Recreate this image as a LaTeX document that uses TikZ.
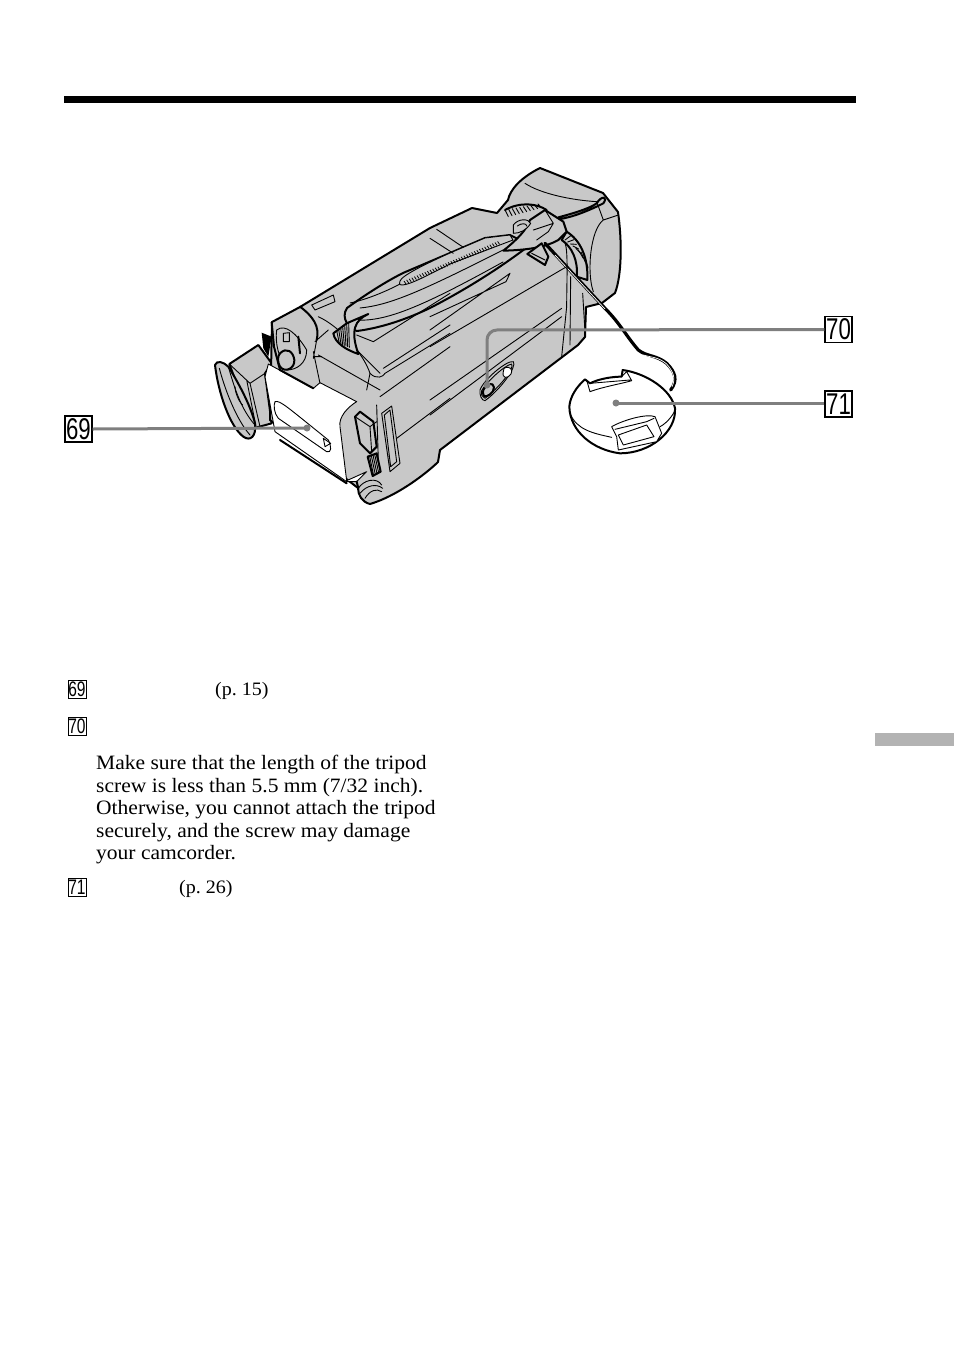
\documentclass[tikz,border=0pt]{standalone}
\usepackage{fontspec}
\setmainfont[FakeStretch=1.055]{Liberation Serif}
\newfontfamily\numfont{Liberation Sans}
\definecolor{shellgrey}{HTML}{C8C8C8}
\definecolor{leadgrey}{HTML}{7F7F7F}
\definecolor{tabgrey}{HTML}{B3B3B3}
\newcommand{\numtext}[2]{\scalebox{.74}[1]{\fontsize{#1}{#1}\numfont #2}}
\tikzset{
	heavy/.style={line width=2pt,line join=round,line cap=round},
	thin line/.style={line width=.9pt,line join=round,line cap=round},
	shell/.style={preaction={fill=shellgrey},draw=black,heavy},
	shell thin/.style={preaction={fill=shellgrey},draw=black,thin line},
	blank/.style={preaction={fill=white},draw=black,thin line},
	bigbox/.style={draw,line width=1.2pt,inner sep=0pt,minimum width=27pt,minimum height=26pt},
	smallbox/.style={draw,line width=.9pt,inner sep=0pt,minimum width=18pt,minimum height=18pt},
	leader/.style={draw=leadgrey,line width=3pt},
	tip/.style={circle,fill=leadgrey,inner sep=0pt,minimum size=7pt},
	bodytext/.style={font=\fontsize{20.4}{22.6}\selectfont,inner sep=0pt,align=left},
	pagetext/.style={font=\fontsize{19}{22}\selectfont,inner sep=0pt}
}
\begin{document}
\frenchspacing
\begin{tikzpicture}[x=1pt,y=-1pt]
	\useasboundingbox (0,0) rectangle (954,1352);
	\fill (64,96) rectangle (856,103);
	\fill[tabgrey] (875,733) rectangle (954,746);
	% camcorder, left half read in 3x coordinates
	\begin{scope}[shift={(200,160)},scale=1/3]
		% eyecup
		\path[shell] (88,612) -- (175,555) -- (215,610) -- (195,640) -- (215,790) -- (160,805) -- cycle;
		\fill (185,518) -- (215,530) -- (205,590) -- (190,565) -- cycle;
		\path[shell] (45,615) .. controls (50,600) and (70,605) .. (85,620) .. controls (110,660) and (150,730) .. (165,790) .. controls (170,830) and (150,845) .. (130,830) .. controls (90,800) and (55,700) .. (45,615) -- cycle;
		\draw[thin line] (58,625) .. controls (75,690) and (110,780) .. (150,825);
		\draw[thin line] (85,620) .. controls (105,690) and (125,750) .. (165,795);
		\draw[thin line] (150,670) -- (180,800) (140,660) -- (168,800) (88,612) -- (150,670) -- (195,640);
		\draw[thin line] (105,680) .. controls (105,700) and (120,730) .. (128,735);
	\end{scope}
	% main body and lens hood
	\path[shell] (272,322) -- (300,307) -- (430,228) -- (472,208) -- (497,213) -- (508,200) .. controls (510,190) and (520,178) .. (540,168) -- (603,193) -- (618,212) .. controls (622,240) and (622,275) .. (615,293) -- (602,303) -- (586,307) -- (585,337) -- (578,345) -- (440,450) -- (438,462) .. controls (430,470) and (400,495) .. (370,504) .. controls (362,502) and (358,495) .. (358,488) -- (270,420) -- cycle;
	% strap
	\path[shell] (347,308) .. controls (365,295) and (385,282) .. (403,273) -- (450,253) -- (485,238) -- (510,235) -- (530,245) .. controls (500,268) and (465,290) .. (430,308) .. controls (405,320) and (380,328) .. (357,331) .. controls (350,330) and (340,318) .. (347,308) -- cycle;
	\draw[thin line] (350,303) .. controls (365,300) and (385,292) .. (400,284) (355,320) .. controls (385,322) and (420,308) .. (503,262) (360,308) .. controls (390,305) and (420,292) .. (503,250);
	\path[shell thin] (400,281) .. controls (402,275) and (430,262) .. (450,253) -- (485,238) -- (510,235) -- (513,240) -- (450,264) .. controls (430,274) and (410,285) .. (402,285) .. controls (399,285) and (399,283) .. (400,281) -- cycle;
	\foreach \i in {0,...,36} \draw[line width=.7pt] ({404+2.6*\i},{281-1.1*\i}) -- ({406+2.6*\i},{284-1.1*\i});
	\begin{scope}[shift={(200,160)},scale=1/3]
		% battery pack
		\path[blank] (205,612) -- (340,685) -- (360,668) -- (470,725) .. controls (445,740) and (415,770) .. (420,800) -- (440,962) -- (500,935) -- (470,965) -- (440,965) -- (225,815) -- (195,650) -- cycle;
		\draw[heavy] (240,840) -- (440,970);
		\draw[thin line] (225,725) .. controls (240,720) and (260,740) .. (385,840) .. controls (395,860) and (395,880) .. (380,875) -- (235,775) .. controls (222,760) and (220,735) .. (225,725) -- cycle;
		\draw[thin line] (370,835) -- (392,850) -- (375,860) -- cycle;
		% viewfinder knob
		\draw[heavy] (215,487) -- (222,560) -- (240,630) -- (340,685);
		\draw[heavy] (300,440) .. controls (340,470) and (360,500) .. (350,540);
		\path[shell thin] (230,510) .. controls (255,490) and (290,520) .. (320,570) .. controls (320,610) and (290,630) .. (260,630) .. controls (235,590) and (225,550) .. (230,510) -- cycle;
		\path[shell] (240,580) .. controls (260,560) and (280,575) .. (283,600) .. controls (285,625) and (255,640) .. (240,620) .. controls (232,605) and (232,590) .. (240,580) -- cycle;
		\path[shell thin] (250,520) -- (268,518) -- (268,545) -- (250,545) -- cycle;
		\draw[heavy] (295,530) -- (300,580);
		\draw[thin line] (340,575) -- (360,670) (350,540) -- (340,595) (355,585) -- (540,690);
		\draw[thin line] (345,545) -- (385,510) (340,590) -- (365,590);
		% grip end
		\draw[thin line] (335,435) -- (400,405) -- (405,425) -- (345,450) -- cycle;
		\draw[thin line] (355,470) .. controls (420,500) and (490,580) .. (510,640) .. controls (530,660) and (550,650) .. (555,640) -- (750,520);
		\draw[thin line] (470,570) -- (540,640) (510,640) -- (500,690);
		\draw[thin line] (470,525) -- (520,545) -- (750,400) (550,625) -- (750,495);
		\draw[thin line] (540,710) -- (750,560) (530,735) -- (535,905) (590,835) -- (750,715);
		\path[shell] (400,520) -- (440,490) -- (505,462) .. controls (465,480) and (450,510) .. (475,582) .. controls (440,570) and (405,550) .. (400,520) -- cycle;
		\foreach \i in {0,...,6} \draw[thin line] ({410+6*\i},{512-4*\i}) -- ({418+5*\i},{550+2*\i});
		% side door and connector covers
		\draw[thin line] (545,760) -- (575,738) -- (600,910) -- (570,935) -- cycle (553,765) -- (570,750) -- (590,905) -- (572,920) -- cycle;
		\path[shell] (465,770) -- (480,755) -- (520,785) -- (530,860) -- (510,880) -- (480,850) -- cycle;
		\draw[thin line] (465,770) -- (510,800) -- (530,785) (510,800) -- (515,875);
		\path[shell] (503,890) -- (530,880) -- (542,935) -- (518,948) -- cycle;
		\foreach \i in {0,...,4} \draw[thin line] ({509+5*\i},{889-2*\i}) -- ({521+5*\i},{947-3*\i});
		% rubber foot
		\draw[thin line] (475,985) .. controls (490,960) and (530,950) .. (545,975) (480,1000) .. controls (500,975) and (530,970) .. (548,985) (495,1015) .. controls (510,990) and (530,985) .. (545,995);
		\draw[heavy] (470,965) -- (475,985);
	\end{scope}
	% camcorder, right half read in 3x coordinates
	\begin{scope}[shift={(430,160)},scale=1/3]
		% lens hood
		\draw[thin line] (285,70) .. controls (330,100) and (420,120) .. (500,125) (520,180) .. controls (480,210) and (470,340) .. (490,395) (500,125) -- (520,180) -- (565,165);
		\draw[thin line] (20,208) -- (100,262) (0,235) -- (70,280);
		\path[shell] (410,215) .. controls (450,240) and (475,290) .. (472,360) -- (440,350) .. controls (445,300) and (425,260) .. (395,240) -- cycle;
		\foreach \i in {0,...,7} \draw[thin line] ({405+8*\i},{240+6*\i}) -- ({425+7*\i},{225+14*\i});
		\draw[heavy] (225,150) .. controls (270,125) and (320,130) .. (350,150);
		\foreach \i in {0,...,9} \draw[thin line] ({225+11*\i},{150-2*\i}) -- ({235+11*\i},{170-3*\i});
		% loop on the hood
		\draw[heavy] (385,172) .. controls (430,160) and (480,145) .. (500,130) .. controls (515,105) and (535,110) .. (520,130) .. controls (500,140) and (440,170) .. (385,178);
		\path[shell] (300,180) -- (345,150) -- (400,185) -- (410,215) -- (385,240) .. controls (350,260) and (300,270) .. (220,272) .. controls (260,240) and (290,210) .. (300,180) -- cycle;
		\draw[thin line] (310,210) -- (370,190) -- (355,215) -- (320,240) (345,150) -- (370,190);
		\path[shell thin] (250,195) .. controls (265,175) and (295,175) .. (302,190) .. controls (290,210) and (270,220) .. (250,220) -- cycle;
		\draw[thin line] (262,198) .. controls (275,188) and (290,190) .. (290,198);
		% strap slot on the body
		\draw[thin line] (0,510) -- (240,340) -- (228,365) -- (0,470);
		\path[shell] (292,282) -- (335,250) -- (355,290) -- (345,315) -- cycle;
		\draw[thin line] (305,280) -- (345,300);
		% cord to the cap
		\draw[line width=3.2pt,line cap=round] (345,250) -- (525,445) .. controls (570,490) and (590,530) .. (625,570) .. controls (650,590) and (680,585) .. (710,610) .. controls (735,635) and (745,660) .. (722,690);
		\draw[line width=.7pt,white] (375,285) -- (525,447) (640,585) .. controls (660,592) and (685,590) .. (710,612) .. controls (730,635) and (738,655) .. (726,680);
		\draw[thin line] (405,250) .. controls (415,270) and (410,370) .. (410,440) -- (395,590) (422,350) -- (420,555) (458,400) -- (465,515) (395,445) -- (0,720) (410,320) -- (0,560);
		% tripod socket
		\draw[thin line] (0,765) -- (395,470);
		\path[shell thin] (150,690) .. controls (160,660) and (230,600) .. (250,605) .. controls (262,620) and (210,690) .. (165,722) .. controls (155,722) and (148,705) .. (150,690) -- cycle;
		\draw[thin line] (155,692) .. controls (170,665) and (225,615) .. (245,612) .. controls (255,625) and (205,685) .. (165,715) .. controls (157,712) and (152,703) .. (155,692) -- cycle;
		\path[shell] (160,690) .. controls (170,670) and (190,665) .. (192,682) .. controls (192,700) and (170,712) .. (162,708) .. controls (158,702) and (158,696) .. (160,690) -- cycle;
		\path[blank] (222,625) .. controls (240,615) and (250,630) .. (243,642) .. controls (232,658) and (215,655) .. (220,635) -- cycle;
		% lens cap
		\path[preaction={fill=white},draw=black,heavy] (465,658) -- (480,670) .. controls (510,655) and (550,650) .. (575,650) -- (578,630) .. controls (650,640) and (725,690) .. (735,745) .. controls (740,815) and (660,880) .. (570,880) .. controls (490,870) and (420,815) .. (418,740) .. controls (420,710) and (440,680) .. (465,658) -- cycle;
		\draw[thin line] (420,760) .. controls (440,810) and (490,820) .. (545,832) (690,800) .. controls (710,790) and (730,765) .. (735,750);
		\draw[thin line] (470,660) -- (480,695) .. controls (520,680) and (580,670) .. (605,662) -- (590,635) -- (575,650) (480,670) -- (600,660);
		\path[blank] (545,800) .. controls (580,780) and (650,760) .. (675,770) -- (695,820) -- (680,845) -- (565,870) -- (560,830) -- cycle;
		\draw[thin line] (555,808) -- (650,785) -- (672,775) (565,825) -- (650,795) -- (672,830) -- (580,855) -- cycle;
	\end{scope}
	% labels
	\node[bigbox](n69) at (78.5,429){\numtext{30}{69}};
	\node[bigbox](n70) at (838.5,329.5){\numtext{30}{70}};
	\node[bigbox](n71) at (838.5,404){\numtext{30}{71}};
	\node[tip](batt) at (307,428){};
	\node[tip](socket) at (487,385){};
	\node[tip](cap) at (616,403){};
	\path[leader](n69.east) -- (batt.center);
	\path[leader,rounded corners=10pt](n70.west) -- (487,330) -- (socket.center);
	\path[leader](n71.west |- cap) -- (cap.center);
	% list
	\node[smallbox](k69) at (77,689){\numtext{21}{69}};
	\node[smallbox](k70) at (77,726){\numtext{21}{70}};
	\node[smallbox](k71) at (77,887){\numtext{21}{71}};
	\node[pagetext,anchor=base west](p69) at (215,695){(p. 15)};
	\node[bodytext,anchor=north west](note) at (96,755){Make sure that the length of the tripod\\screw is less than 5.5 mm (7/32 inch).\\Otherwise, you cannot attach the tripod\\securely, and the screw may damage\\your camcorder.};
	\node[pagetext,anchor=base west](p71) at (179,893){(p. 26)};
\end{tikzpicture}
\end{document}
